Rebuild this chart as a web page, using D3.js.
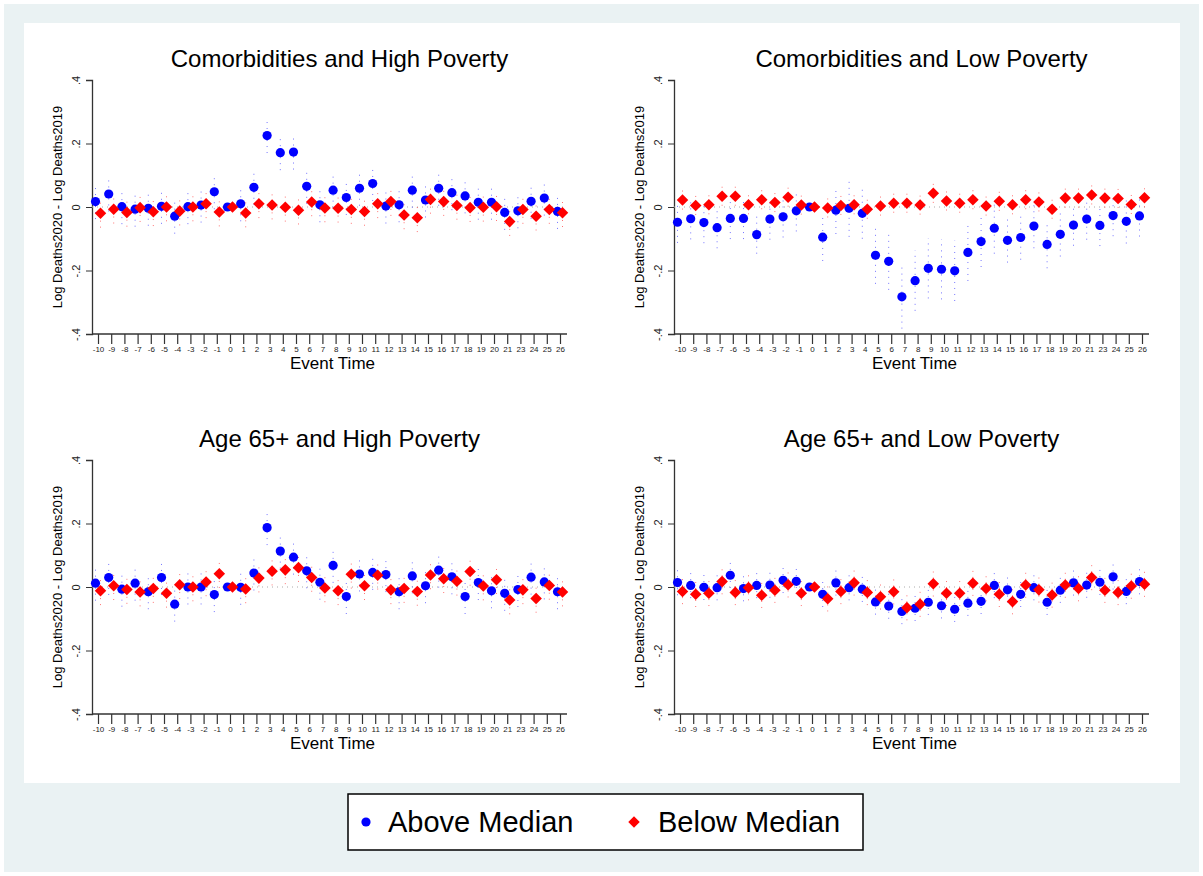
<!DOCTYPE html>
<html>
<head>
<meta charset="utf-8">
<script src="https://cdn.jsdelivr.net/npm/d3@7"></script>
<style>
  body { margin: 0; background: #fff; font-family: Arial, "Liberation Sans", sans-serif; }
</style>
</head>
<body>
<div id="chart"></div>
<script>
// event time categories (note: 22 is absent)
var eventTimes = [-10,-9,-8,-7,-6,-5,-4,-3,-2,-1,0,1,2,3,4,5,6,7,8,9,10,11,12,13,14,15,16,17,18,19,20,21,23,24,25,26];
var yTicks = [-0.4, -0.2, 0, 0.2, 0.4];
var yTickLabels = ["-.4", "-.2", "0", ".2", ".4"];

var comHighAbove = [0.017,0.041,0.001,-0.007,-0.004,0.002,-0.029,0.001,0.006,0.048,0,0.010,0.062,0.225,0.171,0.173,0.065,0.007,0.053,0.030,0.059,0.074,0.003,0.007,0.053,0.022,0.059,0.045,0.035,0.015,0.015,-0.017,-0.012,0.018,0.028,-0.014];
var comHighBelow = [-0.020,-0.007,-0.017,-0.002,-0.015,0,-0.013,0,0.010,-0.016,0,-0.019,0.010,0.006,-0.001,-0.010,0.016,-0.003,-0.004,-0.008,-0.014,0.010,0.017,-0.025,-0.034,0.024,0.017,0.005,-0.002,-0.001,0.001,-0.046,-0.008,-0.029,-0.008,-0.018];
var comLowAbove = [-0.048,-0.037,-0.049,-0.065,-0.036,-0.036,-0.087,-0.038,-0.031,-0.012,0,-0.095,-0.010,-0.004,-0.020,-0.152,-0.171,-0.283,-0.232,-0.193,-0.196,-0.201,-0.143,-0.109,-0.067,-0.105,-0.096,-0.060,-0.118,-0.086,-0.057,-0.038,-0.058,-0.027,-0.045,-0.028];
var comLowBelow = [0.022,0.005,0.007,0.034,0.034,0.007,0.023,0.014,0.031,0.006,0,-0.003,0.005,0.007,-0.007,0.003,0.012,0.012,0.006,0.043,0.019,0.012,0.023,0.003,0.018,0.007,0.023,0.016,-0.007,0.028,0.028,0.038,0.028,0.027,0.008,0.029];
var ageHighAbove = [0.012,0.030,-0.007,0.012,-0.015,0.030,-0.054,0,0,-0.024,0,-0.001,0.044,0.187,0.113,0.094,0.051,0.015,0.068,-0.030,0.041,0.046,0.039,-0.015,0.035,0.004,0.053,0.032,-0.030,0.014,-0.012,-0.020,-0.008,0.031,0.016,-0.015];
var ageHighBelow = [-0.012,0.004,-0.008,-0.016,-0.005,-0.020,0.007,0,0.016,0.042,0,-0.006,0.028,0.050,0.054,0.061,0.030,-0.003,-0.012,0.040,0.004,0.037,-0.009,-0.005,-0.014,0.038,0.026,0.018,0.049,0.003,0.023,-0.041,-0.009,-0.036,0.005,-0.016];
var ageLowAbove = [0.014,0.005,-0.001,-0.002,0.037,-0.005,0.005,0.006,0.021,0.018,0,-0.023,0.013,-0.002,-0.007,-0.047,-0.060,-0.077,-0.067,-0.048,-0.059,-0.070,-0.051,-0.045,0.005,-0.009,-0.023,-0.002,-0.048,-0.010,0.013,0.006,0.015,0.032,-0.014,0.017];
var ageLowBelow = [-0.014,-0.023,-0.020,0.017,-0.017,-0.002,-0.026,-0.010,0.007,-0.020,0,-0.037,-0.014,0.013,-0.017,-0.031,-0.015,-0.065,-0.054,0.010,-0.020,-0.020,0.012,-0.005,-0.023,-0.046,0.006,-0.009,-0.025,0.006,-0.005,0.030,-0.010,-0.017,0.003,0.009];

// confidence interval half-widths
var comLowAboveCI = [0.065,0.065,0.065,0.065,0.065,0.065,0.06,0.065,0.065,0.065,0,0.075,0.075,0.09,0.08,0.09,0.09,0.1,0.095,0.095,0.095,0.095,0.09,0.08,0.08,0.07,0.07,0.07,0.075,0.07,0.065,0.065,0.065,0.065,0.07,0.065];

var panels = [
  { title: "Comorbidities and High Poverty", above: comHighAbove, below: comHighBelow, ciA: 0.055, ciB: 0.045, x0: 92, top: 80 },
  { title: "Comorbidities and Low Poverty", above: comLowAbove, below: comLowBelow, ciA: comLowAboveCI, ciB: 0.03, x0: 674, top: 80 },
  { title: "Age 65+ and High Poverty", above: ageHighAbove, below: ageHighBelow, ciA: 0.055, ciB: 0.045, x0: 92, top: 460 },
  { title: "Age 65+ and Low Poverty", above: ageLowAbove, below: ageLowBelow, ciA: 0.04, ciB: 0.04, x0: 674, top: 460 }
];

var svg = d3.select("#chart").append("svg").attr("width", 1203).attr("height", 876);

// background
svg.append("rect").attr("x", 4).attr("y", 4).attr("width", 1195).attr("height", 868).attr("fill", "#eaf2f3");
svg.append("rect").attr("x", 24).attr("y", 23).attr("width", 1156).attr("height", 760).attr("fill", "#fff");

var blue = "#0000ff", red = "#ff0000";
var diamond = d3.symbol().type(d3.symbolDiamond2).size(85);

panels.forEach(function (p) {
  var plotH = 254, plotW = 475;
  var g = svg.append("g").attr("transform", `translate(${p.x0}, ${p.top})`);

  var x = d3.scalePoint().domain(eventTimes).range([6, 468]);
  var y = d3.scaleLinear().domain([-0.4, 0.4]).range([plotH, 0]);

  // title
  g.append("text").attr("x", plotW / 2 + 10).attr("y", -13)
    .attr("text-anchor", "middle").attr("font-size", 24).text(p.title);

  // y axis
  var leftAxis = d3.axisLeft(y).tickValues(yTicks).tickSize(6)
    .tickFormat(function (d, i) { return yTickLabels[i]; });
  var ya = g.append("g").call(leftAxis);
  ya.select(".domain").attr("stroke", "#333").attr("stroke-width", 1.3);
  ya.selectAll(".tick line").attr("stroke", "#333");
  ya.selectAll(".tick text").attr("font-size", 11).attr("fill", "#222")
    .attr("transform", "rotate(-90)").attr("text-anchor", "middle")
    .attr("x", 0).attr("dy", 0).attr("y", -12);

  g.append("text").attr("transform", "rotate(-90)")
    .attr("x", -plotH / 2).attr("y", -30)
    .attr("text-anchor", "middle").attr("font-size", 13)
    .text("Log Deaths2020 - Log Deaths2019");

  // x axis
  var bottomAxis = d3.axisBottom(x).tickSize(10).tickSizeOuter(0);
  var xa = g.append("g").attr("transform", `translate(0, ${plotH})`).call(bottomAxis);
  xa.select(".domain").attr("stroke", "#333").attr("stroke-width", 1.3)
    .attr("d", `M0,0H${plotW}`);
  xa.selectAll(".tick line").attr("stroke", "#333").attr("stroke-width", 1.2);
  xa.selectAll(".tick text").attr("font-size", 8).attr("fill", "#222").attr("dy", "0.6em");

  g.append("text").attr("x", plotW / 2 + 3).attr("y", plotH + 35)
    .attr("text-anchor", "middle").attr("font-size", 17).text("Event Time");

  // zero reference line
  g.append("line").attr("x1", 0).attr("x2", plotW)
    .attr("y1", y(0)).attr("y2", y(0))
    .attr("stroke", "#aaa").attr("stroke-width", 1).attr("stroke-dasharray", "1,4");

  function ci(c, i) { return Array.isArray(c) ? c[i] : (eventTimes[i] === 0 ? 0 : c); }

  var series = [
    { vals: p.above, c: p.ciA, color: blue, dx: -2.5 },
    { vals: p.below, c: p.ciB, color: red, dx: 2.5 }
  ];

  series.forEach(function (s) {
    g.selectAll(null).data(s.vals).enter().append("line")
      .attr("x1", (d, i) => x(eventTimes[i]) + s.dx)
      .attr("x2", (d, i) => x(eventTimes[i]) + s.dx)
      .attr("y1", (d, i) => y(d - ci(s.c, i)))
      .attr("y2", (d, i) => y(d + ci(s.c, i)))
      .attr("stroke", s.color).attr("stroke-opacity", 0.55)
      .attr("stroke-width", 1).attr("stroke-dasharray", "1,5");
  });

  g.selectAll(null).data(p.above).enter().append("circle")
    .attr("cx", (d, i) => x(eventTimes[i]) - 2.5)
    .attr("cy", d => y(d)).attr("r", 4.6).attr("fill", blue);

  g.selectAll(null).data(p.below).enter().append("path")
    .attr("d", diamond)
    .attr("transform", (d, i) => `translate(${x(eventTimes[i]) + 2.5}, ${y(d)})`)
    .attr("fill", red);
});

// legend
var lg = svg.append("g").attr("transform", "translate(348, 794)");
lg.append("rect").attr("width", 515).attr("height", 56)
  .attr("fill", "#fff").attr("stroke", "#000").attr("stroke-width", 1.5);
lg.append("circle").attr("cx", 18).attr("cy", 28).attr("r", 4.6).attr("fill", blue);
lg.append("text").attr("x", 40).attr("y", 38).attr("font-size", 29).text("Above Median");
lg.append("path").attr("d", diamond)
  .attr("transform", "translate(286, 28)").attr("fill", red);
lg.append("text").attr("x", 310).attr("y", 38).attr("font-size", 29).text("Below Median");
</script>
</body>
</html>
